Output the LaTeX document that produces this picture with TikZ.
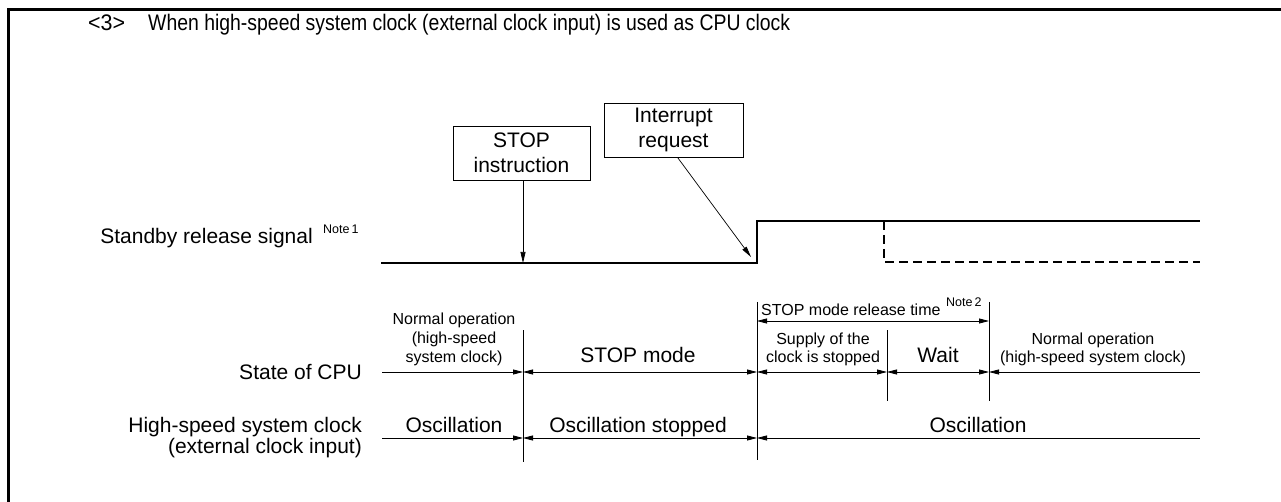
\documentclass[tikz,border=0pt]{standalone}
\usepackage{fontspec}
\setmainfont{Liberation Sans}
\usepackage{graphicx}
\usetikzlibrary{arrows.meta}
\begin{document}
\begin{tikzpicture}[x=1pt,y=-1pt,
  big/.style={font=\fontsize{21}{24}\selectfont, inner sep=0pt},
  ttl/.style={font=\fontsize{22.5}{26}\selectfont, inner sep=0pt},
  small/.style={font=\fontsize{16}{19}\selectfont, inner sep=0pt},
  note/.style={font=\fontsize{12.5}{14}\selectfont, inner sep=0pt},
  frame/.style={line width=3pt},
  signal/.style={line width=2.2pt},
  dsignal/.style={line width=2.2pt, dash pattern=on 9pt off 5pt},
  box/.style={draw, line width=0.8pt, font=\fontsize{21}{25.5}\selectfont, align=center, inner sep=0pt},
  ptr/.style={line width=0.7pt, -{Triangle[length=11pt,width=5pt]}},
  tl/.style={line width=0.8pt},
  ar/.style={line width=0.8pt, -{Triangle[length=10pt,width=5pt]}},
  ra/.style={line width=0.8pt, {Triangle[length=10pt,width=5pt]}-},
  dim/.style={line width=0.8pt, {Triangle[length=10pt,width=5pt]}-{Triangle[length=10pt,width=5pt]}}
]
\useasboundingbox (0,0) rectangle (1281,502);
% frame
\draw[frame] (1281,10) -- (8,10) -- (8,502);
% title
\node[ttl, anchor=base west] (num) at (88,31) {\resizebox{37pt}{\height}{<3>}};
\node[ttl, anchor=base west] (title) at (148,31) {\resizebox{642pt}{\height}{When high-speed system clock (external clock input) is used as CPU clock}};
% left labels
\node[big, anchor=base east] (sig) at (313,244) {Standby release signal};
\node[note, anchor=base west] (n1) at (323,234) {Note\,1};
\node[big, anchor=base east] (cpu) at (362,379) {State of CPU};
\node[big, anchor=base east] (hs1) at (362,432) {High-speed system clock};
\node[big, anchor=base east] (hs2) at (362,453) {(external clock input)};
% boxes
\node[box, minimum width=137pt, minimum height=54pt] (stopbox) at (521.5,153) {STOP\\instruction};
\node[box, minimum width=139pt, minimum height=54pt] (intbox) at (673.5,130) {Interrupt\\request};
% signal
\coordinate (sL) at (381,263);
\coordinate (sStep) at (757,263);
\coordinate (sHi) at (757,221);
\coordinate (sR) at (1200,221);
\coordinate (dTop) at (884,221);
\coordinate (dBot) at (884,262);
\coordinate (dR) at (1200,262);
\draw[signal] (sL) -- (sStep) -- (sHi) -- (sR);
\draw[dsignal] (dTop) -- (dBot) -- (dR);
\coordinate (stopTip) at (523,263);
\coordinate (intTip) at (751,257);
\draw[ptr] (stopbox.south -| stopTip) -- (stopTip);
\draw[ptr] ([xshift=4pt]intbox.south) -- (intTip);
% vertical lines
\coordinate (v1t) at (523,330); \coordinate (v1b) at (523,462);
\coordinate (v2t) at (757,302); \coordinate (v2b) at (757,460);
\coordinate (v3t) at (887,330); \coordinate (v3b) at (887,401);
\coordinate (v4t) at (989,302); \coordinate (v4b) at (989,401);
\draw[tl] (v1t) -- (v1b);
\draw[tl] (v2t) -- (v2b);
\draw[tl] (v3t) -- (v3b);
\draw[tl] (v4t) -- (v4b);
% CPU state line
\coordinate (cL) at (382,372);
\coordinate (c1) at (523,372);
\coordinate (c2) at (757,372);
\coordinate (c3) at (887,372);
\coordinate (c4) at (989,372);
\coordinate (cR) at (1200,372);
\draw[ar] (cL) -- (c1);
\draw[dim] (c1) -- (c2);
\draw[dim] (c2) -- (c3);
\draw[dim] (c3) -- (c4);
\draw[ra] (c4) -- (cR);
% release time
\coordinate (r1) at (757,321);
\coordinate (r2) at (989,321);
\draw[dim] (r1) -- (r2);
\node[small, anchor=base west] (rel) at (761,316) {STOP mode release time};
\node[note, anchor=base west] (n2) at (946,306) {Note\,2};
% oscillation line
\coordinate (oL) at (382,438);
\coordinate (o1) at (523,438);
\coordinate (o2) at (757,438);
\coordinate (oR) at (1200,438);
\draw[ar] (oL) -- (o1);
\draw[dim] (o1) -- (o2);
\draw[ra] (o2) -- (oR);
% state texts
\node[small, anchor=base] (no1) at (454,324) {Normal operation};
\node[small, anchor=base] (no2) at (454,343) {(high-speed};
\node[small, anchor=base] (no3) at (454,362) {system clock)};
\node[big, anchor=base] (stopmode) at (638,362) {STOP mode};
\node[small, anchor=base] (sup1) at (823,344) {Supply of the};
\node[small, anchor=base] (sup2) at (823,362) {clock is stopped};
\node[big, anchor=base] (wait) at (938,362) {Wait};
\node[small, anchor=base] (nr1) at (1093,344) {Normal operation};
\node[small, anchor=base] (nr2) at (1093,362) {(high-speed system clock)};
% oscillation texts
\node[big, anchor=base] (osc1) at (454,432) {Oscillation};
\node[big, anchor=base] (osc2) at (638,432) {Oscillation stopped};
\node[big, anchor=base] (osc3) at (978,432) {Oscillation};
\end{tikzpicture}
\end{document}
